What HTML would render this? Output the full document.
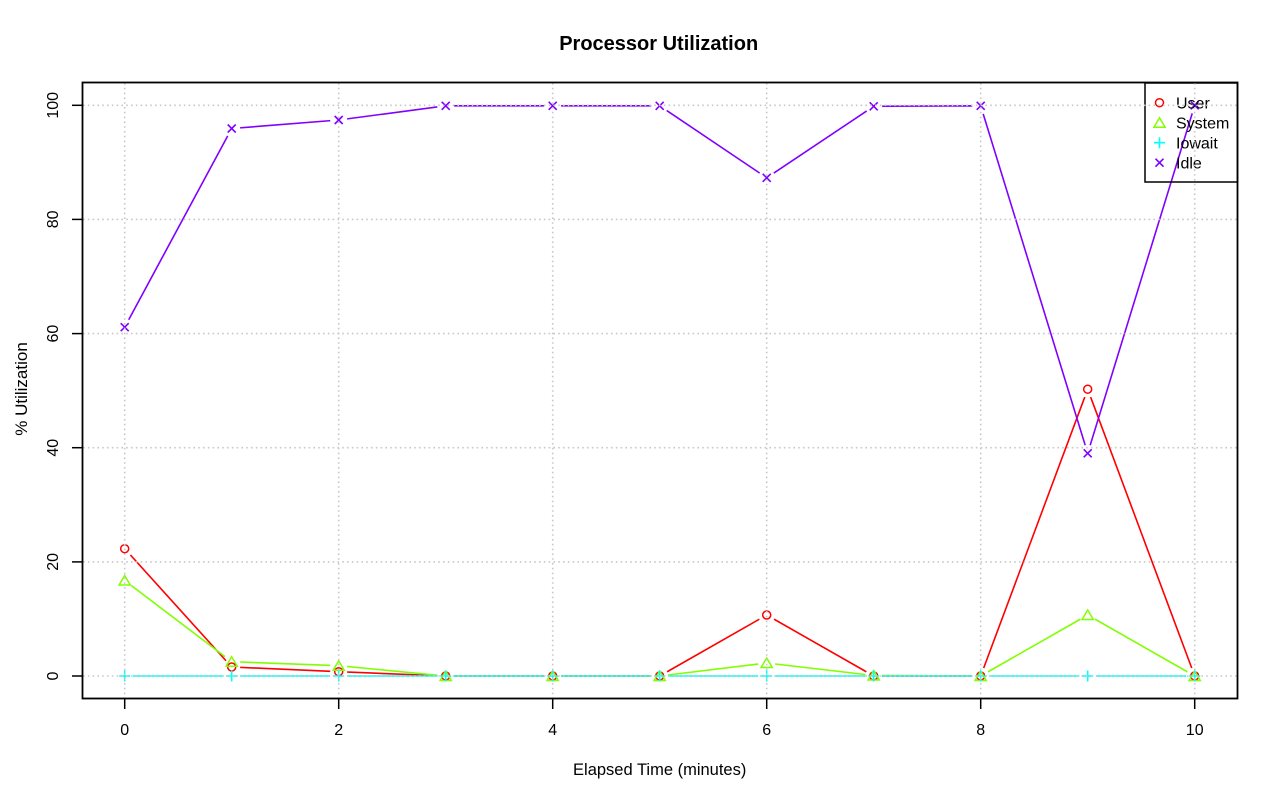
<!DOCTYPE html>
<html>
<head>
<meta charset="utf-8">
<style>
  html, body { margin: 0; padding: 0; background: #ffffff; }
  svg { display: block; }
  text { font-family: "Liberation Sans", "DejaVu Sans", sans-serif; fill: #000; }
</style>
</head>
<body>
<svg width="1280" height="801" viewBox="0 0 1280 801" xmlns="http://www.w3.org/2000/svg">
  <rect x="0" y="0" width="1280" height="801" fill="#ffffff"/>

  <defs>
    <mask id="mUser" maskUnits="userSpaceOnUse" x="0" y="0" width="1280" height="801">
      <rect x="0" y="0" width="1280" height="801" fill="#fff"/>
      <g fill="#000">
        <circle cx="124.7" cy="548.7" r="8.5"/><circle cx="231.7" cy="667" r="8.5"/>
        <circle cx="338.7" cy="671.7" r="8.5"/><circle cx="445.7" cy="676" r="8.5"/>
        <circle cx="552.7" cy="676" r="8.5"/><circle cx="659.7" cy="676" r="8.5"/>
        <circle cx="766.7" cy="615" r="8.5"/><circle cx="873.7" cy="676" r="8.5"/>
        <circle cx="980.7" cy="676" r="8.5"/><circle cx="1087.7" cy="389.2" r="8.5"/>
        <circle cx="1194.7" cy="676" r="8.5"/>
      </g>
    </mask>
    <mask id="mSys" maskUnits="userSpaceOnUse" x="0" y="0" width="1280" height="801">
      <rect x="0" y="0" width="1280" height="801" fill="#fff"/>
      <g fill="#000">
        <circle cx="124.7" cy="580.5" r="8.5"/><circle cx="231.7" cy="661.7" r="8.5"/>
        <circle cx="338.7" cy="665.7" r="8.5"/><circle cx="445.7" cy="676" r="8.5"/>
        <circle cx="552.7" cy="676" r="8.5"/><circle cx="659.7" cy="676" r="8.5"/>
        <circle cx="766.7" cy="663" r="8.5"/><circle cx="873.7" cy="675.5" r="8.5"/>
        <circle cx="980.7" cy="676" r="8.5"/><circle cx="1087.7" cy="615" r="8.5"/>
        <circle cx="1194.7" cy="676" r="8.5"/>
      </g>
    </mask>
    <mask id="mIo" maskUnits="userSpaceOnUse" x="0" y="0" width="1280" height="801">
      <rect x="0" y="0" width="1280" height="801" fill="#fff"/>
      <g fill="#000">
        <circle cx="124.7" cy="676" r="8.5"/><circle cx="231.7" cy="676" r="8.5"/>
        <circle cx="338.7" cy="676" r="8.5"/><circle cx="445.7" cy="676" r="8.5"/>
        <circle cx="552.7" cy="676" r="8.5"/><circle cx="659.7" cy="676" r="8.5"/>
        <circle cx="766.7" cy="676" r="8.5"/><circle cx="873.7" cy="676" r="8.5"/>
        <circle cx="980.7" cy="676" r="8.5"/><circle cx="1087.7" cy="676" r="8.5"/>
        <circle cx="1194.7" cy="676" r="8.5"/>
      </g>
    </mask>
    <mask id="mIdle" maskUnits="userSpaceOnUse" x="0" y="0" width="1280" height="801">
      <rect x="0" y="0" width="1280" height="801" fill="#fff"/>
      <g fill="#000">
        <circle cx="124.7" cy="327.2" r="8.5"/><circle cx="231.7" cy="128.5" r="8.5"/>
        <circle cx="338.7" cy="120" r="8.5"/><circle cx="445.7" cy="105.8" r="8.5"/>
        <circle cx="552.7" cy="105.8" r="8.5"/><circle cx="659.7" cy="105.8" r="8.5"/>
        <circle cx="766.7" cy="177.8" r="8.5"/><circle cx="873.7" cy="106.3" r="8.5"/>
        <circle cx="980.7" cy="105.8" r="8.5"/><circle cx="1087.7" cy="453.3" r="8.5"/>
        <circle cx="1194.7" cy="105.3" r="8.5"/>
      </g>
    </mask>
  </defs>

  <!-- Title -->
  <text x="658.7" y="50" font-size="20" font-weight="bold" text-anchor="middle">Processor Utilization</text>

  <!-- Axis labels -->
  <text x="659.7" y="775" font-size="16.5" text-anchor="middle">Elapsed Time (minutes)</text>
  <text x="27" y="389" font-size="17" text-anchor="middle" transform="rotate(-90 27 389)">% Utilization</text>

  <!-- Series lines -->
  <g fill="none" stroke-width="1.6" stroke-linejoin="round">
    <polyline mask="url(#mUser)" stroke="#FF0000"
      points="124.7,548.7 231.7,667 338.7,671.7 445.7,676 552.7,676 659.7,676 766.7,615 873.7,676 980.7,676 1087.7,389.2 1194.7,676"/>
    <polyline mask="url(#mSys)" stroke="#80FF00"
      points="124.7,580.5 231.7,661.7 338.7,665.7 445.7,676 552.7,676 659.7,676 766.7,663 873.7,675.5 980.7,676 1087.7,615 1194.7,676"/>
    <polyline mask="url(#mIo)" stroke="#00FFFF"
      points="124.7,676 231.7,676 338.7,676 445.7,676 552.7,676 659.7,676 766.7,676 873.7,676 980.7,676 1087.7,676 1194.7,676"/>
    <polyline mask="url(#mIdle)" stroke="#8000FF"
      points="124.7,327.2 231.7,128.5 338.7,120 445.7,105.8 552.7,105.8 659.7,105.8 766.7,177.8 873.7,106.3 980.7,105.8 1087.7,453.3 1194.7,105.3"/>
  </g>

  <!-- Markers: User circles -->
  <g fill="none" stroke="#FF0000" stroke-width="1.5">
    <circle cx="124.7" cy="548.7" r="4"/><circle cx="231.7" cy="667" r="4"/>
    <circle cx="338.7" cy="671.7" r="4"/><circle cx="445.7" cy="676" r="4"/>
    <circle cx="552.7" cy="676" r="4"/><circle cx="659.7" cy="676" r="4"/>
    <circle cx="766.7" cy="615" r="4"/><circle cx="873.7" cy="676" r="4"/>
    <circle cx="980.7" cy="676" r="4"/><circle cx="1087.7" cy="389.2" r="4"/>
    <circle cx="1194.7" cy="676" r="4"/>
  </g>
  <!-- System triangles -->
  <g fill="none" stroke="#80FF00" stroke-width="1.5" stroke-linejoin="miter">
    <polygon points="124.7,575.5 130.3,585 119.1,585"/>
    <polygon points="231.7,656.7 237.3,666.2 226.1,666.2"/>
    <polygon points="338.7,660.7 344.3,670.2 333.1,670.2"/>
    <polygon points="445.7,671 451.3,680.5 440.1,680.5"/>
    <polygon points="552.7,671 558.3,680.5 547.1,680.5"/>
    <polygon points="659.7,671 665.3,680.5 654.1,680.5"/>
    <polygon points="766.7,658 772.3,667.5 761.1,667.5"/>
    <polygon points="873.7,670.5 879.3,680 868.1,680"/>
    <polygon points="980.7,671 986.3,680.5 975.1,680.5"/>
    <polygon points="1087.7,610 1093.3,619.5 1082.1,619.5"/>
    <polygon points="1194.7,671 1200.3,680.5 1189.1,680.5"/>
  </g>
  <!-- Iowait plus -->
  <g fill="none" stroke="#00FFFF" stroke-width="1.6">
    <path d="M119.2,676h11M124.7,670.5v11
             M226.2,676h11M231.7,670.5v11
             M333.2,676h11M338.7,670.5v11
             M440.2,676h11M445.7,670.5v11
             M547.2,676h11M552.7,670.5v11
             M654.2,676h11M659.7,670.5v11
             M761.2,676h11M766.7,670.5v11
             M868.2,676h11M873.7,670.5v11
             M975.2,676h11M980.7,670.5v11
             M1082.2,676h11M1087.7,670.5v11
             M1189.2,676h11M1194.7,670.5v11"/>
  </g>
  <!-- Idle crosses -->
  <g fill="none" stroke="#8000FF" stroke-width="1.6">
    <path d="M120.7,323.2l8,8M128.7,323.2l-8,8
             M227.7,124.5l8,8M235.7,124.5l-8,8
             M334.7,116l8,8M342.7,116l-8,8
             M441.7,101.8l8,8M449.7,101.8l-8,8
             M548.7,101.8l8,8M556.7,101.8l-8,8
             M655.7,101.8l8,8M663.7,101.8l-8,8
             M762.7,173.8l8,8M770.7,173.8l-8,8
             M869.7,102.3l8,8M877.7,102.3l-8,8
             M976.7,101.8l8,8M984.7,101.8l-8,8
             M1083.7,449.3l8,8M1091.7,449.3l-8,8
             M1190.7,101.3l8,8M1198.7,101.3l-8,8"/>
  </g>

  <!-- Legend -->
  <rect x="1145" y="83" width="92.5" height="99" fill="none" stroke="#000" stroke-width="1.5"/>
  <circle cx="1159.5" cy="102.7" r="4" fill="none" stroke="#FF0000" stroke-width="1.5"/>
  <polygon points="1159.5,117.7 1165.1,127.2 1153.9,127.2" fill="none" stroke="#80FF00" stroke-width="1.5"/>
  <path d="M1154,142.7h11M1159.5,137.2v11" stroke="#00FFFF" stroke-width="1.6" fill="none"/>
  <path d="M1155.5,158.7l8,8M1163.5,158.7l-8,8" stroke="#8000FF" stroke-width="1.6" fill="none"/>
  <text x="1176" y="108.3" font-size="16">User</text>
  <text x="1176" y="128.3" font-size="16">System</text>
  <text x="1176" y="148.3" font-size="16">Iowait</text>
  <text x="1176" y="168.3" font-size="16">Idle</text>

  <!-- Grid (drawn on top, dotted) -->
  <g stroke="#c8c8c8" stroke-width="1.6" stroke-dasharray="1.6 3.2" fill="none">
    <line x1="124.7" y1="83" x2="124.7" y2="698"/>
    <line x1="338.7" y1="83" x2="338.7" y2="698"/>
    <line x1="552.7" y1="83" x2="552.7" y2="698"/>
    <line x1="766.7" y1="83" x2="766.7" y2="698"/>
    <line x1="980.7" y1="83" x2="980.7" y2="698"/>
    <line x1="1194.7" y1="83" x2="1194.7" y2="698"/>
    <line x1="83" y1="676" x2="1237" y2="676"/>
    <line x1="83" y1="561.9" x2="1237" y2="561.9"/>
    <line x1="83" y1="447.7" x2="1237" y2="447.7"/>
    <line x1="83" y1="333.6" x2="1237" y2="333.6"/>
    <line x1="83" y1="219.4" x2="1237" y2="219.4"/>
    <line x1="83" y1="105.3" x2="1237" y2="105.3"/>
  </g>

  <!-- Plot box -->
  <rect x="82.5" y="82.5" width="1155" height="616" fill="none" stroke="#000" stroke-width="1.8"/>

  <!-- Y ticks -->
  <g stroke="#000" stroke-width="1.5">
    <line x1="72" y1="676" x2="82.5" y2="676"/>
    <line x1="72" y1="561.9" x2="82.5" y2="561.9"/>
    <line x1="72" y1="447.7" x2="82.5" y2="447.7"/>
    <line x1="72" y1="333.6" x2="82.5" y2="333.6"/>
    <line x1="72" y1="219.4" x2="82.5" y2="219.4"/>
    <line x1="72" y1="105.3" x2="82.5" y2="105.3"/>
  </g>
  <g font-size="16">
    <text x="58" y="676" text-anchor="middle" transform="rotate(-90 58 676)">0</text>
    <text x="58" y="561.9" text-anchor="middle" transform="rotate(-90 58 561.9)">20</text>
    <text x="58" y="447.7" text-anchor="middle" transform="rotate(-90 58 447.7)">40</text>
    <text x="58" y="333.6" text-anchor="middle" transform="rotate(-90 58 333.6)">60</text>
    <text x="58" y="219.4" text-anchor="middle" transform="rotate(-90 58 219.4)">80</text>
    <text x="58" y="105.3" text-anchor="middle" transform="rotate(-90 58 105.3)">100</text>
  </g>

  <!-- X ticks -->
  <g stroke="#000" stroke-width="1.5">
    <line x1="124.7" y1="698.5" x2="124.7" y2="709"/>
    <line x1="338.7" y1="698.5" x2="338.7" y2="709"/>
    <line x1="552.7" y1="698.5" x2="552.7" y2="709"/>
    <line x1="766.7" y1="698.5" x2="766.7" y2="709"/>
    <line x1="980.7" y1="698.5" x2="980.7" y2="709"/>
    <line x1="1194.7" y1="698.5" x2="1194.7" y2="709"/>
  </g>
  <g font-size="16" text-anchor="middle">
    <text x="124.7" y="735">0</text>
    <text x="338.7" y="735">2</text>
    <text x="552.7" y="735">4</text>
    <text x="766.7" y="735">6</text>
    <text x="980.7" y="735">8</text>
    <text x="1194.7" y="735">10</text>
  </g>
</svg>
</body>
</html>
